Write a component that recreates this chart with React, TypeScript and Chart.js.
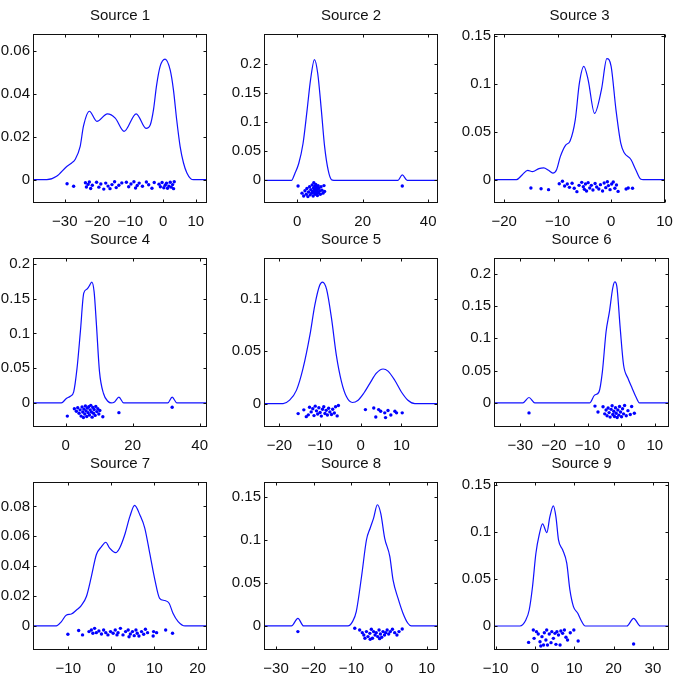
import React, { useEffect, useRef } from "react";
import { Chart, registerables } from "chart.js";
Chart.register(...registerables);

type P = [number, number];

const FONT = '"Liberation Sans", Arial, Helvetica, sans-serif';

const titles = ["Source 1", "Source 2", "Source 3", "Source 4", "Source 5", "Source 6", "Source 7", "Source 8", "Source 9"];

// ---------- Source 1 ----------
const source1XTicks = [-30, -20, -10, 0, 10];
const source1YTicks = [0, 0.02, 0.04, 0.06];
const source1XRange = [-39.7, 13.4];
const source1YRange = [-0.0109, 0.0681];
const source1Curve: P[] = [
  [-39.7, 0], [-35.5, 0], [-32.5, 0.0016], [-29.4, 0.0062], [-27.9, 0.0078], [-26.9, 0.0093], [-25.3, 0.0156],
  [-24.3, 0.025], [-22.5, 0.032], [-20.2, 0.0273], [-17.0, 0.0308], [-14.6, 0.0288], [-11.9, 0.0226], [-8.2, 0.0308],
  [-5.2, 0.024], [-3.9, 0.0257], [-2.9, 0.033], [-2.0, 0.044], [-0.9, 0.053], [0.6, 0.0564], [2.14, 0.0514],
  [3.16, 0.042], [4.15, 0.028], [5.19, 0.0156], [6.23, 0.0078], [7.27, 0.0031], [8.4, 0.0005], [9.3, 0], [13.4, 0],
];
const source1Dots: P[] = [
  [-29.3, -0.0019], [-27.3, -0.0031], [-23.7, -0.0014], [-23.4, -0.0034], [-22.9, -0.0022], [-22.5, -0.0011], [-22.1, -0.0041],
  [-21.6, -0.0026], [-20.3, -0.0012], [-19.6, -0.0035], [-19.0, -0.002], [-18.1, -0.0044], [-17.5, -0.0016], [-16.8, -0.003],
  [-16.2, -0.0042], [-15.6, -0.0023], [-14.8, -0.001], [-14.3, -0.0037], [-13.5, -0.0026], [-12.6, -0.0015], [-11.2, -0.0012],
  [-10.5, -0.0033], [-9.8, -0.002], [-8.9, -0.001], [-8.4, -0.0039], [-7.9, -0.0027], [-7.3, -0.0016], [-6.3, -0.0031],
  [-5.1, -0.0011], [-4.4, -0.0024], [-3.4, -0.004], [-2.7, -0.0013], [-1.25, -0.0021], [-0.83, -0.0033], [-0.31, -0.0013],
  [0.21, -0.0038], [0.62, -0.0026], [1.04, -0.0017], [1.35, -0.004], [1.76, -0.003], [2.18, -0.0012], [2.49, -0.0035],
  [2.9, -0.0023], [3.2, -0.0042], [3.4, -0.001],
];

// ---------- Source 2 ----------
const source2XTicks = [0, 20, 40];
const source2YTicks = [0, 0.05, 0.1, 0.15, 0.2];
const source2XRange = [-10.1, 43.0];
const source2YRange = [-0.039, 0.252];
const source2Curve: P[] = [
  [-10.1, 0], [-1.7, 0], [-0.7, 0.0115], [0.5, 0.029], [1.8, 0.063], [3.05, 0.121], [4.1, 0.173], [5.3, 0.208],
  [6.3, 0.184], [7.4, 0.121], [8.4, 0.058], [9.5, 0.017], [10.5, 0.001], [11.2, 0], [30.8, 0], [32.1, 0.0095],
  [33.6, 0], [43.0, 0],
];
const source2Dots: P[] = [
  [0.3, -0.0098], [1.5, -0.022], [2.0, -0.027], [2.4, -0.018], [2.8, -0.024], [3.0, -0.014], [3.3, -0.028], [3.5, -0.02],
  [3.8, -0.011], [4.0, -0.025], [4.2, -0.016], [4.4, -0.022], [4.6, -0.008], [4.7, -0.019], [4.9, -0.027], [5.0, -0.013],
  [5.1, -0.004], [5.2, -0.021], [5.3, -0.016], [5.4, -0.01], [5.5, -0.024], [5.6, -0.018], [5.7, -0.007], [5.8, -0.014],
  [5.9, -0.022], [6.0, -0.011], [6.1, -0.019], [6.2, -0.026], [6.3, -0.015], [6.4, -0.009], [6.5, -0.021], [6.7, -0.013],
  [6.9, -0.018], [7.1, -0.024], [7.3, -0.011], [7.6, -0.017], [7.9, -0.022], [8.2, -0.009], [8.4, -0.019], [32.1, -0.0098],
];

// ---------- Source 3 ----------
const source3XTicks = [-20, -10, 0, 10];
const source3YTicks = [0, 0.05, 0.1, 0.15];
const source3XRange = [-21.9, 10.1];
const source3YRange = [-0.0243, 0.1517];
const source3Curve: P[] = [
  [-21.9, 0], [-17.7, 0], [-16.6, 0.0052], [-15.6, 0.0097], [-14.7, 0.0083], [-13.5, 0.0115], [-12.6, 0.0122],
  [-11.7, 0.0097], [-10.9, 0.0069], [-10.2, 0.0104], [-9.5, 0.024], [-8.5, 0.036], [-7.7, 0.04], [-6.7, 0.0625],
  [-5.95, 0.1], [-5.1, 0.118], [-4.3, 0.104], [-3.1, 0.069], [-1.8, 0.094], [-0.8, 0.126], [0, 0.118], [0.9, 0.073],
  [1.8, 0.038], [2.45, 0.028], [3.7, 0.021], [4.6, 0.0104], [5.5, 0.0007], [6.0, 0], [10.1, 0],
];
const source3Dots: P[] = [
  [-15.0, -0.0087], [-13.1, -0.0094], [-11.7, -0.0104], [-9.7, -0.0042], [-9.1, -0.0017], [-8.7, -0.0066], [-8.2, -0.0045],
  [-7.8, -0.008], [-7.3, -0.0038], [-6.9, -0.009], [-6.4, -0.0125], [-6.0, -0.0059], [-5.5, -0.0028], [-5.2, -0.0073],
  [-5.0, -0.0101], [-4.8, -0.0045], [-4.6, -0.0118], [-4.3, -0.0031], [-4.0, -0.0087], [-3.7, -0.0059], [-3.4, -0.0108],
  [-3.0, -0.004], [-2.7, -0.0076], [-2.3, -0.0097], [-2.0, -0.0052], [-1.6, -0.0118], [-1.3, -0.0034], [-1.0, -0.0083],
  [-0.7, -0.0021], [-0.5, -0.0062], [-0.2, -0.0104], [0.1, -0.0045], [0.4, -0.0024], [0.7, -0.009], [1.0, -0.0055],
  [1.3, -0.0122], [2.8, -0.0097], [3.2, -0.0087], [4.0, -0.009],
];

// ---------- Source 4 ----------
const source4XTicks = [0, 20, 40];
const source4YTicks = [0, 0.05, 0.1, 0.15, 0.2];
const source4XRange = [-9.75, 42.2];
const source4YRange = [-0.0347, 0.2087];
const source4Curve: P[] = [
  [-9.75, 0], [-1.3, 0], [0.2, 0.0063], [1.4, 0.0096], [2.4, 0.016], [3.4, 0.05], [4.4, 0.103], [5.4, 0.158], [6.4, 0.164],
  [7.0, 0.168], [7.8, 0.174], [8.5, 0.16], [9.2, 0.112], [10.1, 0.045], [11.3, 0.0135], [12.6, 0.0024], [13.6, 0],
  [14.6, 0.0014], [15.9, 0.0082], [17.3, 0], [30.5, 0], [31.8, 0.0082], [33.2, 0], [42.2, 0],
];
const source4Dots: P[] = [
  [0.5, -0.019], [2.6, -0.0085], [3.2, -0.012], [3.6, -0.007], [4.0, -0.015], [4.3, -0.01], [4.6, -0.019], [4.9, -0.006],
  [5.1, -0.013], [5.3, -0.021], [5.5, -0.009], [5.7, -0.016], [5.9, -0.0045], [6.1, -0.0115], [6.3, -0.0195], [6.5, -0.0075],
  [6.7, -0.014], [6.9, -0.0055], [7.1, -0.0175], [7.3, -0.01], [7.5, -0.0035], [7.7, -0.013], [7.9, -0.0205], [8.1, -0.0065],
  [8.3, -0.015], [8.5, -0.0095], [8.8, -0.018], [9.0, -0.005], [9.3, -0.0125], [9.6, -0.0085], [9.9, -0.016], [10.2, -0.011],
  [11.1, -0.02], [15.9, -0.014], [31.8, -0.0063],
];

// ---------- Source 5 ----------
const source5XTicks = [-20, -10, 0, 10];
const source5YTicks = [0, 0.05, 0.1];
const source5XRange = [-23.8, 19.0];
const source5YRange = [-0.0224, 0.139];
const source5Curve: P[] = [
  [-23.8, 0], [-19.1, 0], [-17.5, 0.0032], [-15.8, 0.0128], [-14.2, 0.0335], [-12.5, 0.0655], [-11.3, 0.094],
  [-10.1, 0.113], [-9.4, 0.116], [-8.4, 0.109], [-7.2, 0.0815], [-6.0, 0.046], [-4.75, 0.021], [-3.5, 0.0064],
  [-2.05, 0.001], [-0.65, 0.0032], [0.7, 0.0096], [2.2, 0.019], [3.85, 0.029], [5.5, 0.033], [6.7, 0.031], [8.4, 0.022],
  [10.0, 0.011], [11.6, 0.0032], [13.3, 0], [19.0, 0],
];
const source5Dots: P[] = [
  [-15.4, -0.0096], [-14.0, -0.006], [-13.4, -0.0125], [-12.9, -0.0108], [-12.6, -0.0035], [-12.2, -0.008], [-11.8, -0.005],
  [-11.5, -0.0115], [-11.2, -0.0025], [-10.9, -0.007], [-10.6, -0.01], [-10.3, -0.004], [-10.0, -0.0085], [-9.7, -0.012],
  [-9.4, -0.0055], [-9.1, -0.003], [-8.8, -0.0095], [-8.5, -0.0065], [-8.2, -0.011], [-7.9, -0.0045], [-7.6, -0.008],
  [-7.2, -0.0105], [-6.9, -0.0055], [-6.5, -0.009], [-6.2, -0.003], [-5.8, -0.0118], [-5.5, -0.0018],
  [1.15, -0.0058], [3.2, -0.0042], [3.7, -0.0128], [4.4, -0.0058], [4.9, -0.0073], [5.9, -0.0089], [6.1, -0.0134],
  [6.7, -0.0067], [7.4, -0.0109], [8.4, -0.0073], [8.8, -0.0089], [10.2, -0.0089],
];

// ---------- Source 6 ----------
const source6XTicks = [-30, -20, -10, 0, 10];
const source6YTicks = [0, 0.05, 0.1, 0.15, 0.2];
const source6XRange = [-37.8, 14.2];
const source6YRange = [-0.0373, 0.224];
const source6Curve: P[] = [
  [-37.8, 0], [-29.2, 0], [-27.4, 0.0083], [-25.7, 0], [-9.4, 0], [-7.9, 0.012], [-6.6, 0.017], [-5.6, 0.048],
  [-4.5, 0.11], [-3.5, 0.141], [-2.5, 0.178], [-1.9, 0.187], [-1.3, 0.18], [-0.3, 0.1155], [0.7, 0.0585], [2.0, 0.038],
  [3.3, 0.022], [4.5, 0.0078], [5.4, 0], [14.2, 0],
];
const source6Dots: P[] = [
  [-27.4, -0.0155], [-7.8, -0.005], [-6.9, -0.014], [-5.4, -0.006], [-4.9, -0.017], [-4.5, -0.011], [-4.2, -0.02],
  [-3.9, -0.008], [-3.6, -0.015], [-3.3, -0.022], [-3.0, -0.01], [-2.7, -0.0045], [-2.5, -0.018], [-2.2, -0.013],
  [-2.0, -0.021], [-1.7, -0.0075], [-1.5, -0.016], [-1.2, -0.0225], [-1.0, -0.011], [-0.7, -0.019], [-0.5, -0.0055],
  [-0.2, -0.014], [0.1, -0.0215], [0.4, -0.009], [0.7, -0.017], [1.0, -0.004], [1.5, -0.02], [2.0, -0.012], [2.7, -0.018],
  [3.1, -0.0055], [3.9, -0.016],
];

// ---------- Source 7 ----------
const source7XTicks = [-10, 0, 10, 20];
const source7YTicks = [0, 0.02, 0.04, 0.06, 0.08];
const source7XRange = [-18.2, 22.2];
const source7YRange = [-0.0161, 0.0963];
const source7Curve: P[] = [
  [-18.2, 0], [-12.8, 0], [-11.6, 0.0029], [-10.5, 0.0072], [-9.3, 0.008], [-8.1, 0.0107], [-7.0, 0.0136], [-5.8, 0.0197],
  [-4.65, 0.033], [-3.5, 0.0476], [-2.3, 0.053], [-1.3, 0.056], [-0.4, 0.052], [1.0, 0.049], [1.9, 0.052], [3.1, 0.061],
  [4.3, 0.0733], [5.4, 0.0807], [6.6, 0.0744], [7.75, 0.0655], [8.9, 0.0487], [10.1, 0.0308], [11.2, 0.0185],
  [12.4, 0.017], [13.4, 0.0152], [14.3, 0.0085], [15.5, 0.0029], [17.1, 0], [22.2, 0],
];
const source7Dots: P[] = [
  [-10.1, -0.0056], [-7.6, -0.0031], [-6.7, -0.006], [-5.2, -0.0038], [-4.65, -0.0027], [-4.3, -0.0049], [-3.9, -0.0016],
  [-3.5, -0.0045], [-2.9, -0.0034], [-2.3, -0.0054], [-1.8, -0.0027], [-1.3, -0.0045], [-0.8, -0.006], [-0.2, -0.0038],
  [0.4, -0.0049], [0.9, -0.0027], [1.3, -0.006], [1.55, -0.0045], [2.1, -0.0016], [2.7, -0.006], [3.3, -0.0038],
  [3.9, -0.0027], [4.1, -0.0072], [4.4, -0.0054], [4.9, -0.0038], [5.3, -0.0065], [5.7, -0.0027], [6.0, -0.0049],
  [6.4, -0.0067], [7.0, -0.0038], [7.5, -0.0056], [7.9, -0.0022], [8.4, -0.0045], [9.7, -0.0067], [9.8, -0.0038],
  [10.5, -0.0045], [12.6, -0.0027], [14.2, -0.0049],
];

// ---------- Source 8 ----------
const source8XTicks = [-30, -20, -10, 0, 10];
const source8YTicks = [0, 0.05, 0.1, 0.15];
const source8XRange = [-33.2, 13.0];
const source8YRange = [-0.028, 0.1675];
const source8Curve: P[] = [
  [-33.2, 0], [-25.9, 0], [-24.2, 0.0089], [-22.7, 0], [-10.9, 0], [-9.7, 0.005], [-8.7, 0.0167], [-7.3, 0.0575],
  [-6.0, 0.1], [-5.0, 0.114], [-4.1, 0.1255], [-3.1, 0.141], [-2.2, 0.131], [-1.15, 0.102], [0.2, 0.081], [1.06, 0.0536],
  [2.4, 0.032], [3.7, 0.0148], [5.0, 0.0031], [5.9, 0], [13.0, 0],
];
const source8Dots: P[] = [
  [-24.2, -0.0066], [-9.1, -0.0027], [-7.8, -0.0047], [-7.1, -0.0078], [-6.7, -0.0105], [-6.4, -0.0144], [-6.0, -0.0066],
  [-5.6, -0.0124], [-5.1, -0.0086], [-5.0, -0.0155], [-4.7, -0.0039], [-4.4, -0.0144], [-4.1, -0.0066], [-3.7, -0.0105],
  [-3.4, -0.0078], [-3.0, -0.0124], [-2.65, -0.0047], [-2.5, -0.0148], [-2.3, -0.0093], [-1.95, -0.0132], [-1.6, -0.0066],
  [-1.2, -0.0105], [-0.9, -0.0078], [-0.5, -0.0047], [-0.1, -0.0093], [0.35, -0.0066], [0.9, -0.0039], [1.5, -0.0078],
  [2.1, -0.0105], [2.65, -0.0066], [3.5, -0.0035],
];

// ---------- Source 9 ----------
const source9XTicks = [-10, 0, 10, 20, 30];
const source9YTicks = [0, 0.05, 0.1, 0.15];
const source9XRange = [-10.4, 34.1];
const source9YRange = [-0.0255, 0.153];
const source9Curve: P[] = [
  [-10.4, 0], [-3.8, 0], [-2.3, 0.0064], [-1.45, 0.017], [-0.6, 0.042], [0.25, 0.077], [1.1, 0.097], [1.95, 0.1085],
  [3.05, 0.0993], [3.8, 0.116], [4.7, 0.1277], [5.35, 0.116], [6.0, 0.0915], [7.05, 0.081], [8.1, 0.0667], [8.9, 0.0383],
  [9.8, 0.0206], [10.9, 0.0135], [11.7, 0.0064], [12.8, 0], [23.4, 0], [25.1, 0.0082], [26.8, 0], [34.1, 0],
];
const source9Dots: P[] = [
  [-1.6, -0.0174], [-0.4, -0.0043], [-0.2, -0.0131], [0.4, -0.006], [0.85, -0.0085], [1.3, -0.0167], [1.5, -0.0213],
  [1.8, -0.0113], [2.2, -0.0202], [2.4, -0.0071], [2.8, -0.0149], [3.0, -0.0043], [3.2, -0.0202], [3.65, -0.0085],
  [4.1, -0.0177], [4.3, -0.006], [4.7, -0.0131], [5.1, -0.0078], [5.35, -0.0195], [5.6, -0.006], [6.0, -0.0096],
  [6.4, -0.0202], [6.6, -0.0053], [7.05, -0.0078], [7.5, -0.0043], [7.9, -0.012], [8.3, -0.0149], [9.0, -0.0071],
  [9.9, -0.0043], [11.0, -0.016], [25.1, -0.0191],
];

const curves = [source1Curve, source2Curve, source3Curve, source4Curve, source5Curve, source6Curve, source7Curve, source8Curve, source9Curve];
const dotSets = [source1Dots, source2Dots, source3Dots, source4Dots, source5Dots, source6Dots, source7Dots, source8Dots, source9Dots];
const xTickSets = [source1XTicks, source2XTicks, source3XTicks, source4XTicks, source5XTicks, source6XTicks, source7XTicks, source8XTicks, source9XTicks];
const yTickSets = [source1YTicks, source2YTicks, source3YTicks, source4YTicks, source5YTicks, source6YTicks, source7YTicks, source8YTicks, source9YTicks];
const xRanges = [source1XRange, source2XRange, source3XRange, source4XRange, source5XRange, source6XRange, source7XRange, source8XRange, source9XRange];
const yRanges = [source1YRange, source2YRange, source3YRange, source4YRange, source5YRange, source6YRange, source7YRange, source8YRange, source9YRange];

// layout (page pixels of each plot box)
const COL_L = [33, 264, 494];
const COL_R = [207, 438, 669];
const ROW_T = [34, 258, 482];
const ROW_B = [203, 427, 650];
const PADL = 50, PADT = 34, PADR = 14, PADB = 34;

function fmt(v: number): string {
  const s = String(Math.abs(v));
  return v < 0 ? "\u2212" + s : s;
}

const framePlugin = {
  id: "frame",
  afterDraw(chart: any, _args: any, opts: any) {
    const { ctx, chartArea: a } = chart;
    const xs = chart.scales.x, ys = chart.scales.y;
    ctx.save();
    ctx.strokeStyle = "#111";
    ctx.lineWidth = 1;
    const l = Math.round(a.left) + 0.5, r = Math.round(a.right) - 0.5;
    const t = Math.round(a.top) + 0.5, b = Math.round(a.bottom) - 0.5;
    ctx.strokeRect(l, t, r - l, b - t);
    ctx.beginPath();
    for (const tk of xs.ticks) {
      const px = Math.round(xs.getPixelForValue(tk.value)) + 0.5;
      ctx.moveTo(px, b); ctx.lineTo(px, b - 3);
      ctx.moveTo(px, t); ctx.lineTo(px, t + 3);
    }
    for (const tk of ys.ticks) {
      const py = Math.round(ys.getPixelForValue(tk.value)) + 0.5;
      ctx.moveTo(l, py); ctx.lineTo(l + 3, py);
      ctx.moveTo(r, py); ctx.lineTo(r - 3, py);
    }
    ctx.stroke();
    ctx.fillStyle = "#111";
    ctx.font = `15px ${FONT}`;
    ctx.textAlign = "center";
    ctx.textBaseline = "middle";
    ctx.fillText(opts.text, (a.left + a.right) / 2, a.top - 18.5);
    ctx.restore();
  },
};

export default function App() {
  const refs = useRef<(HTMLCanvasElement | null)[]>([]);

  useEffect(() => {
    const charts: Chart[] = [];
    for (let i = 0; i < 9; i++) {
      const canvas = refs.current[i];
      if (!canvas) continue;
      const xt = xTickSets[i], yt = yTickSets[i];
      const chart = new Chart(canvas, {
        type: "scatter",
        data: {
          datasets: [
            {
              data: curves[i].map(([x, y]) => ({ x, y })),
              showLine: true,
              borderColor: "#1010ff",
              borderWidth: 1.2,
              pointRadius: 0,
              cubicInterpolationMode: "monotone",
              fill: false,
            } as any,
            {
              data: dotSets[i].map(([x, y]) => ({ x, y })),
              showLine: false,
              pointRadius: 1.7,
              pointBackgroundColor: "#0000ff",
              pointBorderWidth: 0,
              backgroundColor: "#0000ff",
            } as any,
          ],
        },
        options: {
          animation: false,
          responsive: false,
          devicePixelRatio: 1,
          events: [],
          layout: { padding: { top: PADT, right: PADR, left: 0, bottom: 0 } },
          plugins: {
            legend: { display: false },
            tooltip: { enabled: false },
            frame: { text: titles[i] },
          } as any,
          scales: {
            x: {
              type: "linear",
              min: xRanges[i][0],
              max: xRanges[i][1],
              grid: { display: false, drawTicks: false },
              border: { display: false },
              afterBuildTicks: (s: any) => { s.ticks = xt.map((v) => ({ value: v })); },
              afterFit: (s: any) => { s.height = PADB; },
              ticks: {
                autoSkip: false, maxRotation: 0, padding: 10, color: "#111",
                font: { family: FONT, size: 15 },
                callback: (v: any) => fmt(Number(v)),
              },
            },
            y: {
              type: "linear",
              min: yRanges[i][0],
              max: yRanges[i][1],
              grid: { display: false, drawTicks: false },
              border: { display: false },
              afterBuildTicks: (s: any) => { s.ticks = yt.map((v) => ({ value: v })); },
              afterFit: (s: any) => { s.width = PADL; },
              ticks: {
                autoSkip: false, padding: 3, color: "#111",
                font: { family: FONT, size: 15 },
                callback: (v: any) => fmt(Number(v)),
              },
            },
          },
        } as any,
        plugins: [framePlugin as any],
      });
      charts.push(chart);
    }
    return () => charts.forEach((c) => c.destroy());
  }, []);

  const boxes = [];
  for (let i = 0; i < 9; i++) {
    const c = i % 3, r = Math.floor(i / 3);
    const w = COL_R[c] - COL_L[c] + PADL + PADR;
    const h = ROW_B[r] - ROW_T[r] + PADT + PADB;
    boxes.push(
      <canvas
        key={i}
        ref={(el) => { refs.current[i] = el; }}
        width={w}
        height={h}
        style={{ position: "absolute", left: COL_L[c] - PADL, top: ROW_T[r] - PADT, width: w, height: h }}
      />
    );
  }

  return (
    <div style={{ position: "fixed", left: 0, top: 0, width: 673, height: 688, overflow: "hidden", background: "#fff" }}>
      {boxes}
    </div>
  );
}
